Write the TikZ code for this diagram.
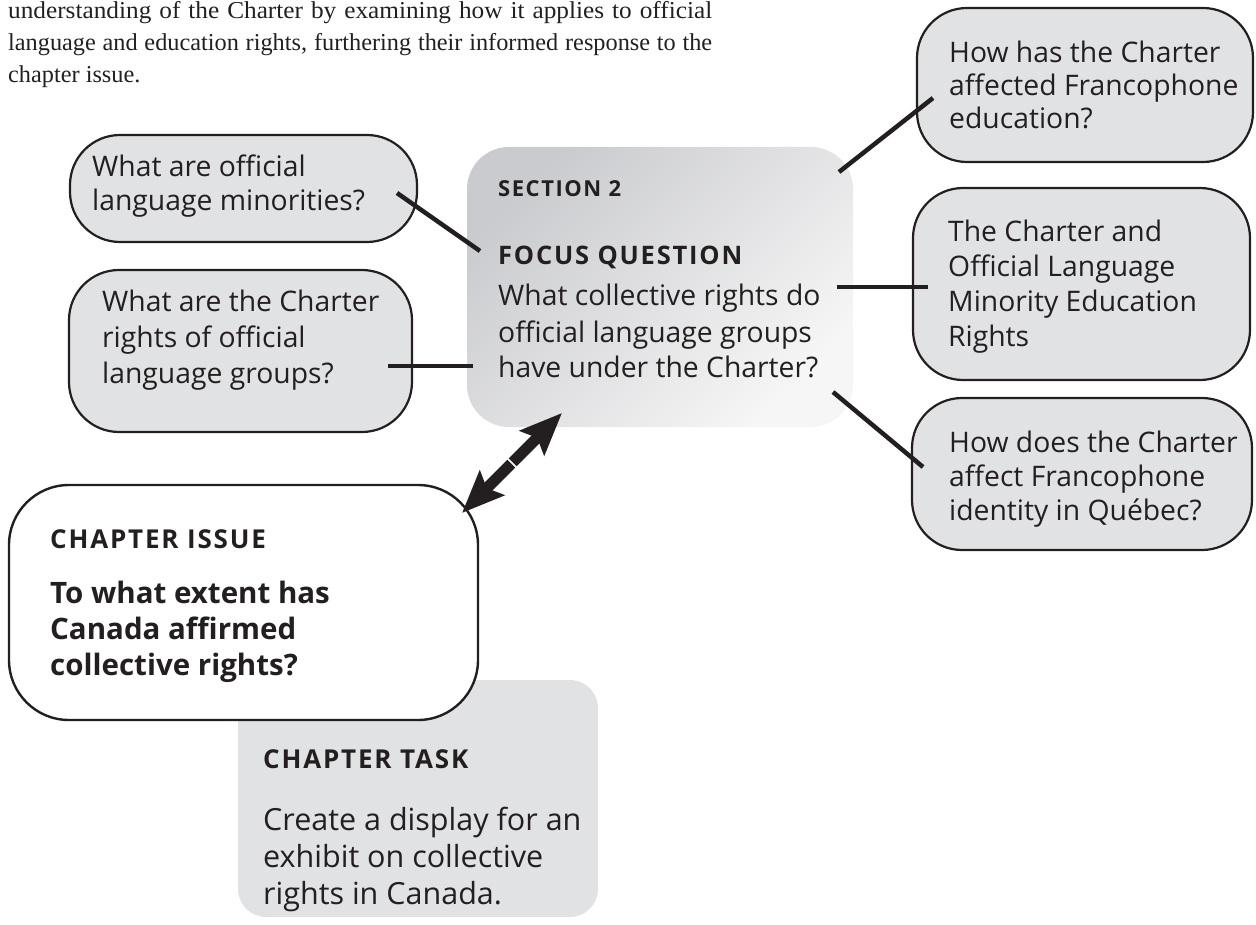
\documentclass[tikz,border=0pt]{standalone}
\usepackage{graphicx}
\usepackage{fontspec}
\setmainfont{Open Sans}
\newfontfamily\seriffont{Liberation Serif}
\newfontfamily\lblfont[LetterSpace=7]{Open Sans}
\usetikzlibrary{arrows.meta,calc}
\definecolor{ink}{HTML}{231F20}
\definecolor{boxgray}{HTML}{E1E2E4}
\definecolor{cdark}{HTML}{CACBCE}
\definecolor{clight}{HTML}{F6F6F6}
\newcommand\bodyfont[1]{\fontsize{28.3}{#1}\selectfont}
\begin{document}
\begin{tikzpicture}[x=1pt,y=-1pt,
  sidebox/.style={draw=ink, line width=2.2pt, fill=boxgray, rounded corners=50pt, inner sep=0pt},
  issuebox/.style={draw=ink, line width=2.4pt, fill=white, rounded corners=60pt, inner sep=0pt},
  taskbox/.style={fill=boxgray, rounded corners=28pt, inner sep=0pt},
  focusbox/.style={rounded corners=42pt, top color=cdark, bottom color=clight, shading angle=45, inner sep=0pt},
  conn/.style={line width=4.5pt, draw=ink},
  txt/.style={inner sep=0pt, anchor=base west, text=ink, align=left},
  lbl/.style={inner sep=0pt, anchor=base west, text=ink, font=\lblfont\bfseries\fontsize{#1}{#1}\selectfont},
  lbl/.default=25]
\useasboundingbox (0,0) rectangle (1256,925);
\clip (0,0) rectangle (1256,925);

% intro text
\node[txt, font=\seriffont\fontsize{24.3}{32}\selectfont] (intro) at (8,19) {\parbox[t]{704pt}{%
\scalebox{1.04}[1]{\makebox[677pt][s]{understanding of the Charter by examining how it applies to official}}\\
\makebox[704pt][s]{language and education rights, furthering their informed response to the}\\
chapter issue.}};

% boxes
\node[taskbox, minimum width=360pt, minimum height=237pt] (task) at (418,798.5) {};
\node[issuebox, minimum width=469pt, minimum height=235pt] (issue) at (243.5,602.5) {};
\node[focusbox, minimum width=386pt, minimum height=280pt] (focus) at (660,287) {};
\node[sidebox, minimum width=347pt, minimum height=107pt] (l1) at (243.5,188.5) {};
\node[sidebox, minimum width=343pt, minimum height=162pt] (l2) at (240.5,351) {};
\node[sidebox, minimum width=336pt, minimum height=154pt] (r1) at (1085,85) {};
\node[sidebox, minimum width=337pt, minimum height=192pt] (r2) at (1081.5,284) {};
\node[sidebox, minimum width=340pt, minimum height=152pt] (r3) at (1082,474) {};

% texts
\node[lbl=22] (sec) at (498,197) {SECTION 2};
\node[lbl=25.5] (fq) at (498,265) {FOCUS QUESTION};
\node[txt, font=\bodyfont{36}] (fqt) at (498,306) {\parbox[t]{350pt}{What collective rights do\\official language groups\\have under the Charter?}};

\node[txt, font=\bodyfont{34}] (l1t) at (92,177) {\parbox[t]{320pt}{What are official\\language minorities?}};
\node[txt, font=\bodyfont{36}] (l2t) at (102,312) {\parbox[t]{320pt}{What are the Charter\\rights of official\\language groups?}};
\node[txt, font=\bodyfont{33}] (r1t) at (949,63) {\parbox[t]{320pt}{How has the Charter\\affected Francophone\\education?}};
\node[txt, font=\bodyfont{35}] (r2t) at (948,242) {\parbox[t]{320pt}{The Charter and\\Official Language\\Minority Education\\Rights}};
\node[txt, font=\bodyfont{34}] (r3t) at (949,452) {\parbox[t]{320pt}{How does the Charter\\affect Francophone\\identity in Québec?}};

\node[lbl=26] (iss) at (50,548) {CHAPTER ISSUE};
\node[txt, font=\bfseries\fontsize{29.5}{36}\selectfont] (isst) at (50,603) {\parbox[t]{420pt}{To what extent has\\Canada affirmed\\collective rights?}};

\node[lbl=26] (tsk) at (263,768) {CHAPTER TASK};
\node[txt, font=\fontsize{30.5}{37}\selectfont] (tskt) at (263,830) {\parbox[t]{340pt}{Create a display for an\\exhibit on collective\\rights in Canada.}};

% connectors
\coordinate (l1a) at (397,193); \coordinate (l1b) at (480,251);
\coordinate (l2a) at (388,366); \coordinate (l2b) at (473,366);
\coordinate (r1a) at (839,172); \coordinate (r1b) at (933,98);
\coordinate (r2a) at (837,287); \coordinate (r2b) at (928,287);
\coordinate (r3a) at (833,392); \coordinate (r3b) at (923,467);
\draw[conn] (l1a) -- (l1b);
\draw[conn] (l2a) -- (l2b);
\draw[conn] (r1a) -- (r1b);
\draw[conn] (r2a) -- (r2b);
\draw[conn] (r3a) -- (r3b);

% double arrow
\coordinate (arrA) at (562,413);
\coordinate (arrB) at (462,513);
\draw[draw=ink, fill=ink, line width=11pt,
  {Stealth[length=42pt,width=34pt,inset=7pt]}-{Stealth[length=42pt,width=34pt,inset=7pt]}] (arrB) -- (arrA);
\path (arrA) -- (arrB) coordinate[pos=0.5] (arrM);
\draw[white, line width=1.6pt] ($(arrM)+(-5,-5)$) -- ($(arrM)+(5,5)$);
\end{tikzpicture}
\end{document}
